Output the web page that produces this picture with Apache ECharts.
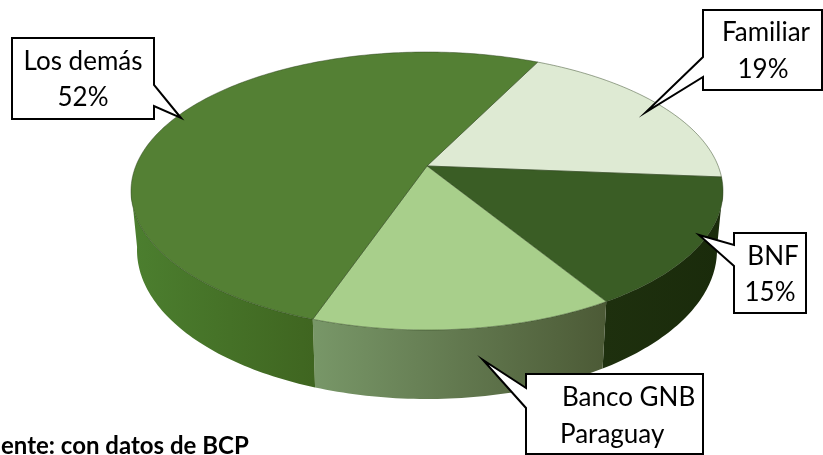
<!DOCTYPE html>
<html>
<head>
<meta charset="utf-8">
<style>html,body{margin:0;padding:0;background:#fff}#c{width:823px;height:455px}</style>
<script src="https://cdn.jsdelivr.net/npm/echarts@6/dist/echarts.min.js"></script>
</head>
<body>
<div id="c"></div>
<script>
// Data (clockwise from the first slice)
const categories = ['Familiar', 'BNF', 'Banco GNB Paraguay', 'Los demás'];
const shares = [19, 15, 14, 52];
const sourceNote = 'ente: con datos de BCP';

// Styles
const topColors = ['#deead3', '#3a5d25', '#a8cf8b', '#548034'];
const sideStops = [ // [left, right]
  ['#a7b59b', '#b9c7ae'],
  ['#1e300e', '#1a2b0b'],
  ['#789768', '#4c5a36'],
  ['#4c7f2f', '#3f6520']
];
const START_DEG = 26.2, TILT = -0.18, STEPS = 90;
const TOP_E = {cx: 427, cy: 191, rx: 296, ry: 139};
const BASE_E = {cx: 427, cy: 250, rx: 290, ry: 149};

// Callout layout: outline with pointer, text lines
const callouts = [
  {pts: [[703,10],[822,10],[822,90],[703,90],[703,77],[646,112],[703,57]],
   lines: [['Familiar',766,33,'center'],['19%',763,70,'center']]},
  {pts: [[734,233],[806,233],[806,313],[734,313],[734,266],[699,235],[734,245]],
   lines: [['BNF',773,257,'center'],['15%',770,293,'center']]},
  {pts: [[526,374],[703,374],[703,454],[526,454],[526,408],[483,360],[526,388]],
   lines: [['Banco GNB',562,398,'left'],['Paraguay',560,435,'left']]},
  {pts: [[12,38],[154,38],[154,85],[181,118],[154,106],[154,119],[12,119]],
   lines: [['Los demás',83,62,'center'],['52%',83,98,'center']]}
];

const total = shares.reduce((a, b) => a + b, 0);
function sliceRange(i) {
  let before = 0;
  for (let k = 0; k < i; k++) before += shares[k];
  const a = START_DEG + before / total * 360;
  return [a, a + shares[i] / total * 360];
}
// Perspective: maps a circle angle to the ellipse, with the pie centre shifted
function norm(deg) {
  const t = deg * Math.PI / 180, u = Math.sin(t), v = -Math.cos(t), d = 1 + TILT * v;
  return [u * Math.sqrt(1 - TILT * TILT) / d, (v + TILT) / d];
}
function place(n, e) { return [e.cx + e.rx * n[0], e.cy + e.ry * n[1]]; }
function arc(a, b) {
  const out = [], n = Math.max(2, Math.ceil((b - a) / 360 * STEPS * 4));
  for (let i = 0; i <= n; i++) out.push(norm(a + (b - a) * i / n));
  return out;
}

function renderSide(params) {
  const i = params.dataIndex, r = sliceRange(i);
  const vis = arc(r[0], r[1]).filter(n => n[1] >= -0.02);
  if (vis.length < 2) return {type: 'group', children: []};
  const pts = vis.map(n => place(n, TOP_E)).concat(vis.slice().reverse().map(n => place(n, BASE_E)));
  const s = sideStops[i];
  return {
    type: 'polygon', shape: {points: pts},
    style: {
      fill: new echarts.graphic.LinearGradient(0, 0, 1, 0, [
        {offset: 0, color: s[0]}, {offset: 1, color: s[1]}
      ])
    }
  };
}
function renderTop(params) {
  const i = params.dataIndex, r = sliceRange(i);
  const pts = [place([0, TILT], TOP_E)].concat(arc(r[0], r[1]).map(n => place(n, TOP_E)));
  return {
    type: 'polygon', shape: {points: pts},
    style: {fill: topColors[i], stroke: 'rgba(40,60,25,0.45)', lineWidth: 1}
  };
}

const seriesData = shares.map((v, i) => ({name: categories[i], value: [i, v]}));
const graphics = [];
callouts.forEach(c => {
  graphics.push({type: 'polygon', z: 100, shape: {points: c.pts},
    style: {fill: '#fff', stroke: '#000', lineWidth: 2}});
  c.lines.forEach(l => graphics.push({type: 'text', z: 101,
    style: {text: l[0], x: l[1], y: l[2], textAlign: l[3], textVerticalAlign: 'middle',
      font: '26px Lato', fill: '#000'}}));
});
graphics.push({type: 'text', z: 101,
  style: {text: sourceNote, x: 1, y: 446, textVerticalAlign: 'middle',
    font: 'bold 24px Lato', fill: '#000'}});

const chart = echarts.init(document.getElementById('c'), null, {renderer: 'canvas'});
chart.setOption({
  animation: false,
  backgroundColor: '#fff',
  series: [
    {type: 'custom', coordinateSystem: 'none', renderItem: renderSide, data: seriesData, z: 1, silent: true},
    {type: 'custom', coordinateSystem: 'none', renderItem: renderTop, data: seriesData, z: 2, silent: true}
  ],
  graphic: graphics
});
</script>
</body>
</html>
